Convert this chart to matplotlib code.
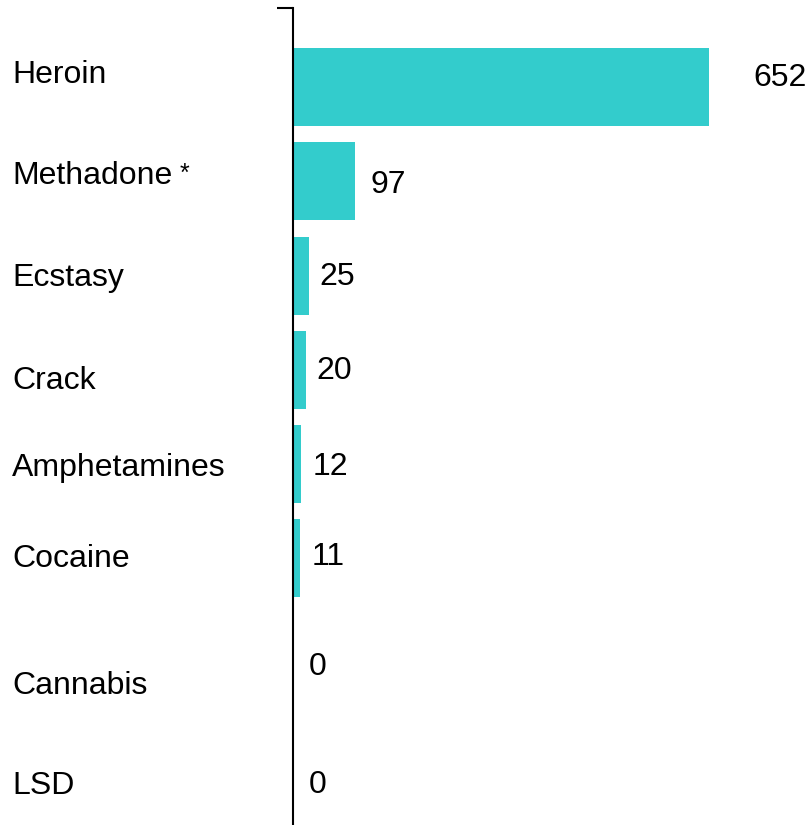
import matplotlib.pyplot as plt
from matplotlib import transforms

plt.rcParams['font.family'] = ['Liberation Sans', 'DejaVu Sans']

# data
drugs = ['Heroin', 'Methadone', 'Ecstasy', 'Crack', 'Amphetamines',
         'Cocaine', 'Cannabis', 'LSD']
deaths = [652, 97, 25, 20, 12, 11, 0, 0]

# small vertical nudges (pixels, down = positive) to mimic the original layout
label_nudge = [-12, -5, 2, 11, 4, 1, 33, 39]
value_nudge = [-9, 4, 1, 1, 3, -1, 14, 38]
value_gap = [44, 16, 10, 11, 12, 12, 16, 16]

BAR = '#33CCCC'

fig = plt.figure(figsize=(8.08, 8.25), dpi=100)
ax = fig.add_axes([293 / 808, 0, 1 - 293 / 808, 1 - 8 / 825])

pos = list(range(len(drugs)))
ax.barh(pos, deaths, height=0.83, color=BAR, zorder=2)
ax.set_xlim(0, 807)
ax.set_ylim(7.83, -0.84)

for s in ['top', 'right', 'bottom']:
    ax.spines[s].set_visible(False)
ax.spines['left'].set_linewidth(1.5)
ax.set_xticks([])
ax.set_yticks([-0.84])
ax.set_yticklabels([])
ax.tick_params(axis='y', length=11.5, width=1.5, direction='out')

blend = transforms.blended_transform_factory(fig.transFigure, ax.transData)
for i, name in enumerate(drugs):
    tr = transforms.offset_copy(blend, fig=fig, x=0, y=-label_nudge[i], units='dots')
    t = ax.text(12 / 808, i, name, transform=tr, ha='left', va='center',
                fontsize=23, color='black')
    if name == 'Methadone':
        ax.annotate('*', xy=(1, 1), xycoords=t, xytext=(7, 0),
                    textcoords='offset pixels', ha='left', va='top',
                    fontsize=18)
    vt = transforms.offset_copy(ax.transData, fig=fig, x=value_gap[i],
                                y=-value_nudge[i], units='dots')
    ax.text(deaths[i], i, str(deaths[i]), transform=vt, ha='left',
            va='center', fontsize=23, color='black')

fig.savefig('out.png', dpi=100)
